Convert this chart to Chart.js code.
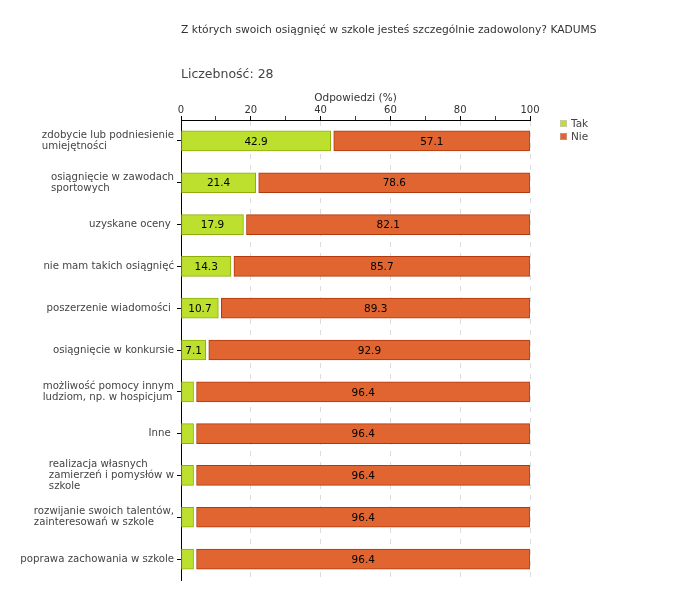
<!DOCTYPE html>
<html>
<head>
<meta charset="utf-8">
<script src="https://cdn.jsdelivr.net/npm/chart.js@4/dist/chart.umd.min.js"></script>
<style>
  html, body { margin: 0; padding: 0; background: #fff; }
  #wrap { width: 680px; height: 600px; }
</style>
</head>
<body>
<div id="wrap"><canvas id="answersChart" width="680" height="600"></canvas></div>
<script>
const title = 'Z których swoich osiągnięć w szkole jesteś szczególnie zadowolony? KADUMS';
const countText = 'Liczebność: 28';
const axisTitle = 'Odpowiedzi (%)';

const categories = [
  ['zdobycie lub podniesienie', 'umiejętności'],
  ['osiągnięcie w zawodach', 'sportowych'],
  ['uzyskane oceny '],
  ['nie mam takich osiągnięć'],
  ['poszerzenie wiadomości '],
  ['osiągnięcie w konkursie'],
  ['możliwość pomocy innym', 'ludziom, np. w hospicjum'],
  ['Inne '],
  ['realizacja własnych', 'zamierzeń i pomysłów w', 'szkole'],
  ['rozwijanie swoich talentów,', 'zainteresowań w szkole'],
  ['poprawa zachowania w szkole']
];
const takValues = [42.9, 21.4, 17.9, 14.3, 10.7, 7.1, 3.6, 3.6, 3.6, 3.6, 3.6];
const nieValues = [57.1, 78.6, 82.1, 85.7, 89.3, 92.9, 96.4, 96.4, 96.4, 96.4, 96.4];
const seriesNames = ['Tak', 'Nie'];

const FONT = "'DejaVu Sans', Verdana, sans-serif";
const green = '#bde02f', greenEdge = '#8fae0e';
const orange = '#e06530', orangeEdge = '#b2380e';

// leave a small white gap between the two parts of each bar
const gapPlugin = {
  id: 'gap',
  afterDatasetUpdate(chart, args) {
    if (args.index !== 1) return;
    args.meta.data.forEach(el => { el.base += 3; });
  }
};

const extrasPlugin = {
  id: 'extras',
  afterDatasetsDraw(chart) {
    const ctx = chart.ctx;
    ctx.save();
    ctx.font = '10.5px ' + FONT;
    ctx.fillStyle = '#000';
    ctx.textAlign = 'center';
    ctx.textBaseline = 'middle';
    chart.data.datasets.forEach((ds, i) => {
      chart.getDatasetMeta(i).data.forEach((el, j) => {
        const v = ds.data[j];
        if (v < 5) return;
        const p = el.getProps(['x', 'y', 'base'], true);
        ctx.fillText(v.toFixed(1), (p.x + p.base) / 2, p.y + 1);
      });
    });
    ctx.restore();
  },
  afterDraw(chart) {
    const ctx = chart.ctx;
    const yScale = chart.scales.y;
    ctx.save();
    // headings
    ctx.fillStyle = '#333';
    ctx.textBaseline = 'middle';
    ctx.textAlign = 'left';
    ctx.font = '10.7px ' + FONT;
    ctx.fillText(title, 181, 30);
    ctx.fillStyle = '#444';
    ctx.font = '12.5px ' + FONT;
    ctx.fillText(countText, 181, 75);

    // category labels: left-aligned blocks, pushed against the axis
    ctx.font = '10.2px ' + FONT;
    ctx.fillStyle = '#444';
    const right = yScale.right - 7;
    categories.forEach((lines, i) => {
      const w = Math.max(...lines.map(l => ctx.measureText(l).width));
      const cy = yScale.getPixelForValue(i);
      const lh = 11;
      const y0 = cy - (lines.length - 1) * lh / 2;
      lines.forEach((l, k) => ctx.fillText(l, right - w, y0 + k * lh));
    });

    // legend
    const cols = [[green, '#c9c9a0'], [orange, '#d09070']];
    ctx.font = '10.5px ' + FONT;
    seriesNames.forEach((name, i) => {
      const y = 123 + i * 13;
      ctx.fillStyle = cols[i][0];
      ctx.fillRect(560, y - 3, 7, 7);
      ctx.strokeStyle = cols[i][1];
      ctx.lineWidth = 1;
      ctx.strokeRect(560.5, y - 2.5, 6, 6);
      ctx.fillStyle = '#444';
      ctx.fillText(name, 571, y + 1);
    });
    ctx.restore();
  }
};

new Chart(document.getElementById('answersChart'), {
  type: 'bar',
  data: {
    labels: categories,
    datasets: [
      {
        label: seriesNames[0],
        data: takValues,
        backgroundColor: green,
        borderColor: greenEdge,
        borderWidth: 1,
        borderSkipped: false,
        barThickness: 20
      },
      {
        label: seriesNames[1],
        data: nieValues,
        backgroundColor: orange,
        borderColor: orangeEdge,
        borderWidth: 1,
        borderSkipped: false,
        barThickness: 20
      }
    ]
  },
  options: {
    indexAxis: 'y',
    responsive: false,
    animation: false,
    layout: { padding: { left: 0, right: 150, top: 92, bottom: 20 } },
    plugins: {
      legend: { display: false },
      tooltip: { enabled: false }
    },
    scales: {
      x: {
        position: 'top',
        stacked: true,
        min: 0,
        max: 100,
        afterFit: (s) => { s.height = 28; },
        title: {
          display: true,
          text: axisTitle,
          color: '#333',
          font: { family: FONT, size: 10.5 },
          padding: { top: 0, bottom: 0 }
        },
        ticks: {
          stepSize: 10,
          autoSkip: false,
          maxRotation: 0,
          padding: 0,
          color: '#333',
          font: { family: FONT, size: 10 },
          callback: (v) => (v % 20 === 0 ? v : '')
        },
        grid: {
          color: (c) => (c.tick && c.tick.value % 20 === 0 && c.tick.value > 0 ? '#dcdcdc' : 'rgba(0,0,0,0)'),
          tickColor: (c) => (c.tick && c.tick.value % 20 === 0 ? '#000' : '#e00000'),
          tickLength: 4,
          tickBorderDash: []
        },
        border: { display: true, color: '#000', width: 1, dash: [5, 6] }
      },
      y: {
        stacked: true,
        afterFit: (s) => { s.width = 181; },
        ticks: { callback: () => '' },
        grid: {
          offset: false,
          drawOnChartArea: false,
          tickColor: '#000',
          tickLength: 4
        },
        border: { display: true, color: '#000', width: 1 }
      }
    }
  },
  plugins: [gapPlugin, extrasPlugin]
});
</script>
</body>
</html>
